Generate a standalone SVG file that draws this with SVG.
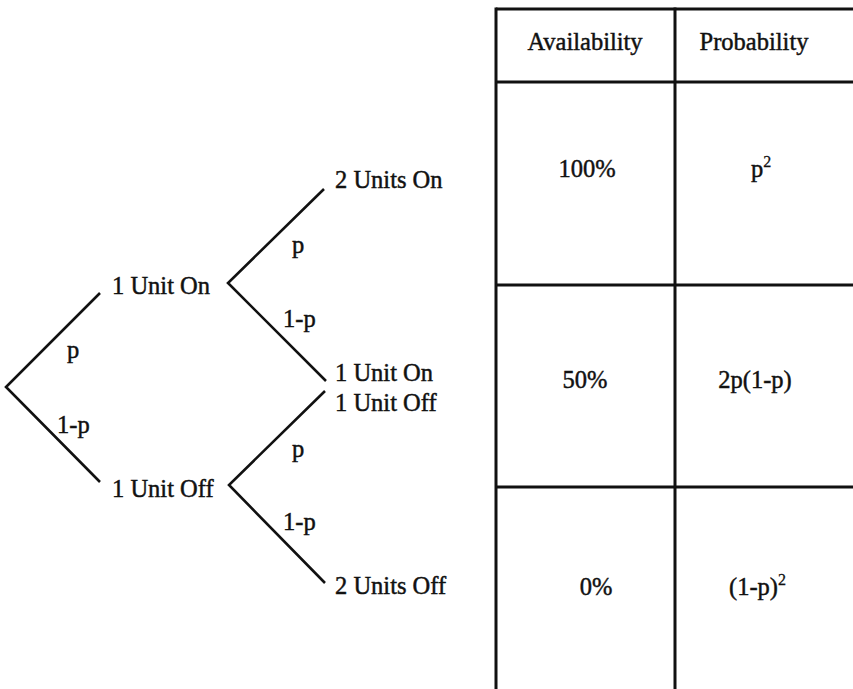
<svg xmlns="http://www.w3.org/2000/svg" width="853" height="689" viewBox="0 0 853 689">
  <style>
    text { font-family: "Liberation Serif", "Times New Roman", serif; font-size: 24.5px; fill: #111; stroke: #111; stroke-width: 0.45px; }
    .mid { text-anchor: middle; }
    .sup { font-size: 16px; stroke-width: 0.3px; }
    .branch { stroke: #111; stroke-width: 2.6; fill: none; stroke-linecap: butt; stroke-linejoin: miter; }
    .grid { stroke: #111; stroke-width: 3; fill: none; }
  </style>
  <rect width="853" height="689" fill="#fff"/>

  <!-- probability tree branches -->
  <g id="connectors">
    <polyline class="branch" points="100,293 6,387 100,482"/>
    <polyline class="branch" points="324,189 228,283 326,381"/>
    <polyline class="branch" points="325,391 229,485 325,583"/>
  </g>

  <!-- branch labels -->
  <g id="edge-labels">
    <text x="67" y="358">p</text>
    <text x="57" y="433">1-p</text>
    <text x="292" y="253">p</text>
    <text x="283" y="327">1-p</text>
    <text x="292" y="457">p</text>
    <text x="283" y="530">1-p</text>
  </g>

  <!-- tree states -->
  <g id="root-on"><text x="112" y="294">1 Unit On</text></g>
  <g id="root-off"><text x="112" y="497">1 Unit Off</text></g>
  <g id="both-on"><text x="335" y="188">2 Units On</text></g>
  <g id="one-on"><text x="335" y="381">1 Unit On</text></g>
  <g id="one-off"><text x="335" y="411">1 Unit Off</text></g>
  <g id="both-off"><text x="335" y="594">2 Units Off</text></g>

  <!-- outcome table -->
  <g id="table">
    <line class="grid" x1="496" y1="9" x2="853" y2="9"/>
    <line class="grid" x1="496" y1="82" x2="853" y2="82"/>
    <line class="grid" x1="496" y1="285" x2="853" y2="285"/>
    <line class="grid" x1="496" y1="487" x2="853" y2="487"/>
    <line class="grid" x1="496" y1="7.5" x2="496" y2="689"/>
    <line class="grid" x1="675" y1="7.5" x2="675" y2="689"/>

    <text class="mid" x="585" y="50">Availability</text>
    <text class="mid" x="754" y="50">Probability</text>

    <text class="mid" x="587" y="177">100%</text>
    <text x="751" y="177">p<tspan class="sup" dy="-10">2</tspan></text>

    <text class="mid" x="585" y="388">50%</text>
    <text class="mid" x="755" y="388">2p(1-p)</text>

    <text class="mid" x="596" y="595">0%</text>
    <text x="729" y="595">(1-p)<tspan class="sup" dy="-10">2</tspan></text>
  </g>
</svg>
